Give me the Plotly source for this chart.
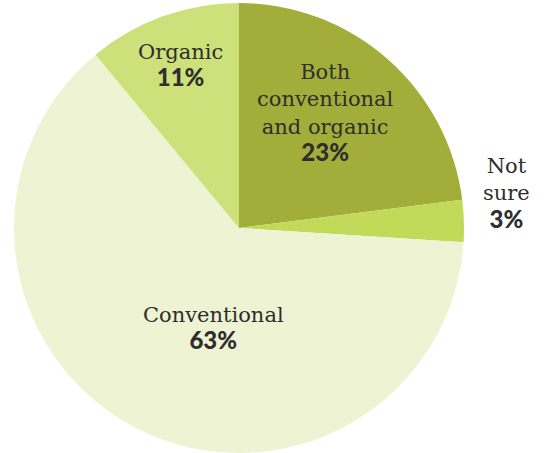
import plotly.graph_objects as go

labels = ["Both conventional and organic", "Not sure", "Conventional", "Organic"]
label_lines = [["Both", "conventional", "and organic"], ["Not", "sure"], ["Conventional"], ["Organic"]]
values = [23, 3, 63, 11]
colors = ["#a3ae3a", "#c2d95a", "#eef4d3", "#cde07a"]

W, H = 547, 453
# label anchor positions (pixel centre of the text block)
label_pos = [(325, 113), (506, 194), (213, 328), (180, 65)]

fig = go.Figure(go.Pie(
    labels=labels, values=values, sort=False, direction="clockwise", rotation=0,
    marker=dict(colors=colors, line=dict(width=0)),
    textinfo="none", hoverinfo="label+percent", showlegend=False,
    domain=dict(x=[14 / W, 464 / W], y=[0, 1 - 3 / H]),
))

anns = []
for lines, v, (px, py) in zip(label_lines, values, label_pos):
    txt = "<br>".join(lines) + "<br><span style=\"font-family:Lato;font-weight:900;font-size:24px\">" + f"{v}%" + "</span>"
    anns.append(dict(x=px / W, y=1 - py / H, xref="paper", yref="paper", text=txt,
                     showarrow=False, align="center", xanchor="center", yanchor="middle",
                     font=dict(family="DejaVu Serif", size=21, color="#2e2e2e")))

fig.update_layout(width=W, height=H, margin=dict(l=0, r=0, t=0, b=0),
                  paper_bgcolor="white", plot_bgcolor="white", annotations=anns)
fig.write_html("out.html")
